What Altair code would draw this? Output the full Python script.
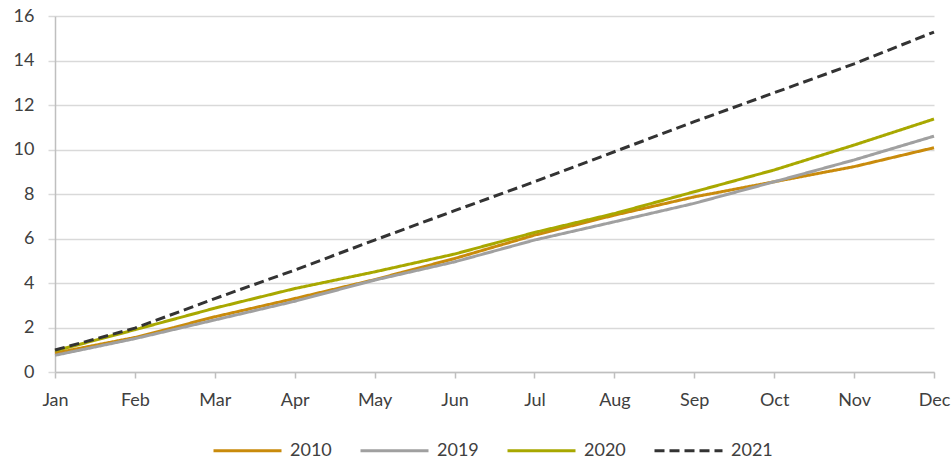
import altair as alt
import pandas as pd

months = ["Jan", "Feb", "Mar", "Apr", "May", "Jun", "Jul", "Aug", "Sep", "Oct", "Nov", "Dec"]
years = ["2010", "2019", "2020", "2021"]
v2010 = [0.85, 1.55, 2.48, 3.3, 4.15, 5.1, 6.15, 7.05, 7.87, 8.55, 9.23, 10.08]
v2019 = [0.75, 1.5, 2.34, 3.18, 4.13, 4.95, 5.93, 6.75, 7.58, 8.55, 9.53, 10.6]
v2020 = [0.95, 1.9, 2.87, 3.75, 4.5, 5.3, 6.27, 7.12, 8.1, 9.08, 10.2, 11.37]
v2021 = [0.99, 1.97, 3.3, 4.58, 5.93, 7.25, 8.55, 9.9, 11.25, 12.55, 13.85, 15.28]
colors = ["#C98B0C", "#A0A0A0", "#A8A800", "#333333"]
dashes = [[1, 0], [1, 0], [1, 0], [10, 5]]

rows = []
for yr, vals in zip(years, [v2010, v2019, v2020, v2021]):
    for m, v in zip(months, vals):
        rows.append({"month": m, "year": yr, "value": v})
df = pd.DataFrame(rows)

FONT = "Lato"
TXT = "#404040"
FS = 18


def make_legend():
    return alt.Legend(title=None, orient="none", direction="horizontal",
                      legendX=157, legendY=399,
                      symbolType="stroke", symbolSize=4624,
                      symbolStrokeWidth=3, labelFont=FONT,
                      labelFontSize=FS, labelColor=TXT,
                      labelOffset=7, columnPadding=22)


chart = alt.Chart(df).mark_line(strokeWidth=3, strokeCap="butt").encode(
    x=alt.X("month:N", sort=months,
            scale=alt.Scale(type="point", padding=0),
            axis=alt.Axis(title=None, labelAngle=0, labelFont=FONT, labelFontSize=FS,
                          labelColor=TXT, domainColor="#BFBFBF", domainWidth=1.5,
                          tickColor="#BFBFBF", tickSize=6, tickWidth=1.5, labelPadding=13,
                          grid=False)),
    y=alt.Y("value:Q", scale=alt.Scale(domain=[0, 16], nice=False),
            axis=alt.Axis(title=None, values=[0, 2, 4, 6, 8, 10, 12, 14, 16],
                          labelFont=FONT, labelFontSize=FS, labelColor=TXT,
                          domainColor="#BFBFBF", domainWidth=1.5,
                          tickColor="#D9D9D9", tickSize=7, tickWidth=1.5,
                          gridColor="#D9D9D9", gridWidth=1.5, labelPadding=14)),
    color=alt.Color("year:N", scale=alt.Scale(domain=years, range=colors),
                    legend=make_legend()),
    strokeDash=alt.StrokeDash("year:N", scale=alt.Scale(domain=years, range=dashes),
                              legend=make_legend()),
).properties(
    width=879, height=356,
    autosize=alt.AutoSizeParams(type="none"),
    padding={"left": 55, "top": 16, "right": 17, "bottom": 87},
).configure_view(stroke=None)

chart.save("out.html", embed_options={"renderer": "svg", "actions": False})
